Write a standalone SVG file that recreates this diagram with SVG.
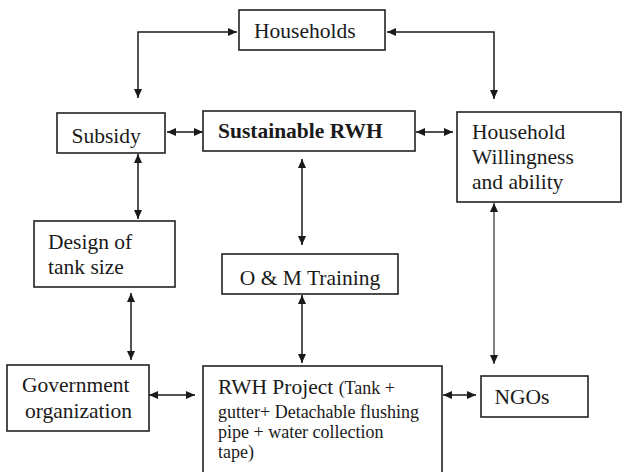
<svg xmlns="http://www.w3.org/2000/svg" width="623" height="472" viewBox="0 0 623 472">
<style>
.box{fill:#fff;stroke:#222;stroke-width:1.6}
.t{font-family:"Liberation Serif","Times New Roman",serif;font-size:21.5px;fill:#1a1a1a}
.s{font-size:18px}
.b{font-weight:bold}
.c{fill:none;stroke:#1a1a1a;stroke-width:1.5;marker-start:url(#ah);marker-end:url(#ah)}
</style>
<defs>
<marker id="ah" markerUnits="userSpaceOnUse" markerWidth="10" markerHeight="8" refX="9" refY="4" orient="auto-start-reverse">
<path d="M0,0 L9,4 L0,8 z" fill="#1a1a1a"/>
</marker>
</defs>
<rect width="623" height="472" fill="#fff"/>
<g id="connectors">
<path class="c" d="M138,98 V32 H237"/>
<path class="c" d="M387,32 H494 V99"/>
<path class="c" d="M167,132 H203"/>
<path class="c" d="M416,132 H453"/>
<path class="c" d="M138,154 V219"/>
<path class="c" d="M302,159 V245"/>
<path class="c" d="M494,203 V364" style="stroke-width:1.1"/>
<path class="c" d="M131,293 V360"/>
<path class="c" d="M302,295 V363"/>
<path class="c" d="M149,395 H195"/>
<path class="c" d="M443,395 H476"/>
</g>
<g id="households">
<rect class="box" x="239" y="10" width="146" height="40"/>
<text class="t" x="254" y="38">Households</text>
</g>
<g id="subsidy">
<rect class="box" x="57" y="113" width="108" height="40"/>
<text class="t" x="71.5" y="142.5">Subsidy</text>
</g>
<g id="sustainable">
<rect class="box" x="203" y="111" width="212" height="40"/>
<text class="t b" x="218" y="138">Sustainable RWH</text>
</g>
<g id="willingness">
<rect class="box" x="457" y="112" width="164" height="90"/>
<text class="t" x="472" y="139">Household</text>
<text class="t" x="472" y="164">Willingness</text>
<text class="t" x="472" y="189">and ability</text>
</g>
<g id="design">
<rect class="box" x="34" y="221" width="141" height="66"/>
<text class="t" x="48" y="249">Design of</text>
<text class="t" x="48" y="274">tank size</text>
</g>
<g id="training">
<rect class="box" x="222" y="254" width="176" height="40"/>
<text class="t" x="310" y="284.5" text-anchor="middle">O &amp; M Training</text>
</g>
<g id="government">
<rect class="box" x="7" y="365" width="142" height="66"/>
<text class="t" x="22" y="392">Government</text>
<text class="t" x="25" y="418">organization</text>
</g>
<g id="project">
<rect class="box" x="203" y="366" width="239" height="110"/>
<text class="t" x="218" y="394">RWH Project <tspan class="s">(Tank +</tspan></text>
<text class="t s" x="218" y="418">gutter+ Detachable flushing</text>
<text class="t s" x="218" y="438">pipe + water collection</text>
<text class="t s" x="218" y="458">tape)</text>
</g>
<g id="ngos">
<rect class="box" x="481" y="376" width="107" height="41"/>
<text class="t" x="494.5" y="404">NGOs</text>
</g>
</svg>
